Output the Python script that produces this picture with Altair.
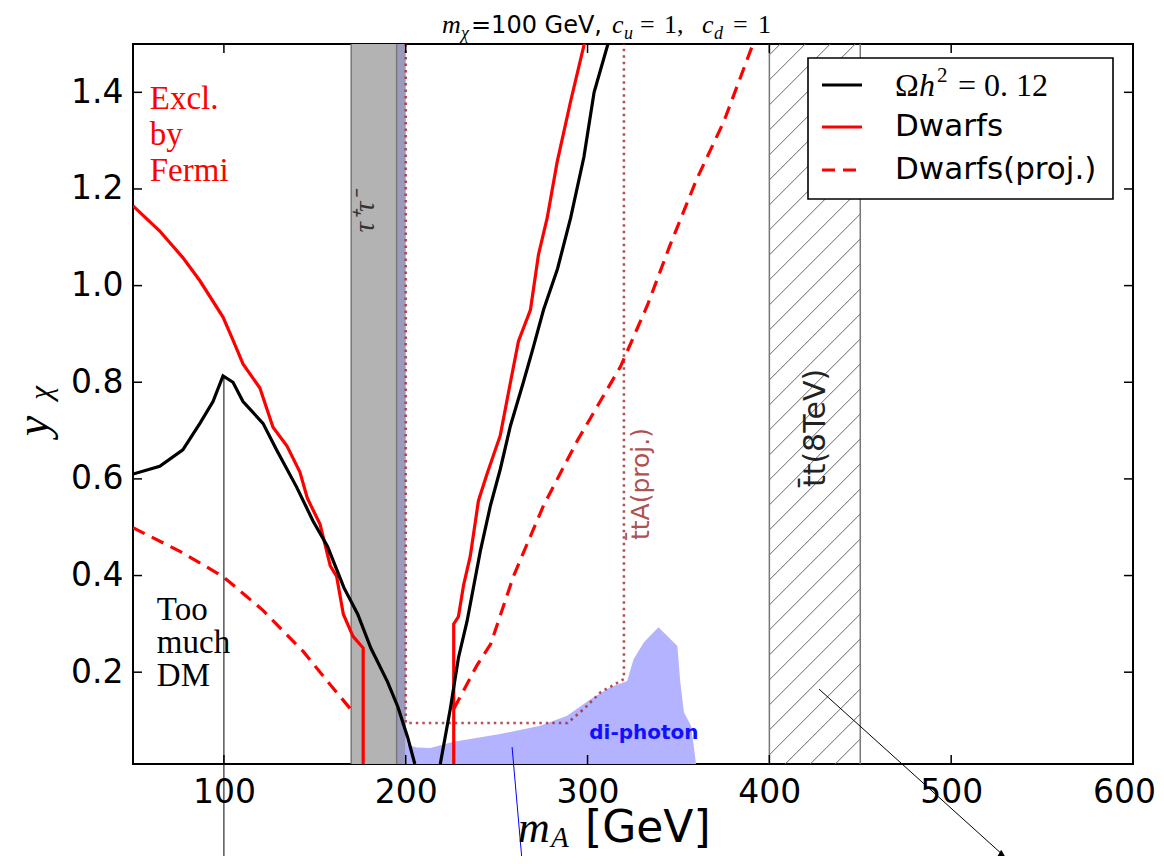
import altair as alt
import numpy as np
import pandas as pd

# ---------------- data ----------------
x_ticks = [100, 200, 300, 400, 500, 600]
y_ticks = [0.2, 0.4, 0.6, 0.8, 1.0, 1.2, 1.4]

relic_left_x = [50, 64.7, 77.4, 86.8, 94, 99.5, 105, 110.5, 121.5, 129, 140, 149, 157, 166, 173.6, 180.8, 190, 195.7, 201, 205]
relic_left_y = [0.61, 0.626, 0.66, 0.715, 0.76, 0.813, 0.80, 0.76, 0.715, 0.66, 0.583, 0.513, 0.46, 0.375, 0.32, 0.25, 0.18, 0.128, 0.066, 0.01]
relic_right_x = [219, 224.5, 229, 233.7, 241, 246.6, 252, 257.6, 264.7, 270, 275.8, 283.5, 290.7, 298, 303.6, 311.6]
relic_right_y = [0.01, 0.124, 0.23, 0.305, 0.45, 0.545, 0.62, 0.71, 0.80, 0.87, 0.95, 1.035, 1.14, 1.266, 1.40, 1.505]

dwarf_left_x = [50, 64.7, 77.4, 86.8, 99.5, 105, 110.5, 119.8, 127, 134.7, 141.8, 145.9, 152.9, 158.5, 162, 165.7, 171, 176.6, 176.6]
dwarf_left_y = [1.165, 1.113, 1.058, 1.01, 0.935, 0.887, 0.838, 0.788, 0.707, 0.668, 0.614, 0.56, 0.506, 0.42, 0.398, 0.32, 0.274, 0.25, 0.01]
dwarf_right_x = [226.4, 226.4, 229, 231.8, 235.5, 240, 244.7, 252, 257.6, 262, 268.6, 273, 277.8, 283.3, 290.6, 298.5]
dwarf_right_y = [0.01, 0.30, 0.315, 0.38, 0.44, 0.555, 0.61, 0.69, 0.80, 0.885, 0.95, 1.064, 1.14, 1.256, 1.38, 1.505]

proj_left_x = [50, 75.8, 99.5, 121.5, 143.6, 158.5, 169.6]
proj_left_y = [0.499, 0.45, 0.398, 0.328, 0.243, 0.174, 0.124]
proj_right_x = [226.4, 239, 246.7, 259.4, 275.8, 294.5, 318.2, 333, 345, 360, 375, 391]
proj_right_y = [0.124, 0.213, 0.258, 0.40, 0.545, 0.68, 0.833, 0.96, 1.08, 1.22, 1.34, 1.5]

ttA_x = [200, 200, 289, 298, 307, 320, 320]
ttA_y = [1.5, 0.095, 0.095, 0.124, 0.158, 0.186, 1.5]

diphoton_x = [200, 201, 206, 213.5, 226.4, 252, 274, 288.8, 301.6, 312.6, 321.8, 325.3, 331, 339, 349.4, 351, 353, 356.9, 359.7]
diphoton_y = [0.065, 0.05, 0.044, 0.043, 0.056, 0.072, 0.089, 0.11, 0.144, 0.169, 0.182, 0.227, 0.262, 0.293, 0.254, 0.18, 0.117, 0.089, 0.01]

tautau_band = [170, 195]
overlap_band = [195, 200]
tt8_band = [400, 450]

# annotation pointer lines (start -> end)
ann_x = [100, 258.5, 427.3]
ann_y = [0.813, 0.045, 0.165]
ann_x2 = [100, 264.2, 527.5]
ann_y2 = [-0.2, -0.2, -0.175]
ann_color = ["black", "blue", "black"]

# ---------------- layout ----------------
X0, X1 = 50, 600
Y0, Y1 = 0.01, 1.5
W, H = 1000, 720
OX, OY = 133, 44  # page position of the plot origin

xscale = alt.Scale(domain=[X0, X1], nice=False, zero=False)
yscale = alt.Scale(domain=[Y0, Y1], nice=False, zero=False)
xaxis = alt.Axis(values=x_ticks, title=None, ticks=False, domain=False, grid=False,
                 labelFont="DejaVu Sans", labelFontSize=33, labelColor="black",
                 labelPadding=12, labelFlush=False, labelOverlap=False, labelBound=False,
                 labelOffset={"condition": {"test": "datum.value == 600", "value": -9}, "value": 0})
yaxis = alt.Axis(values=y_ticks, format=".1f", title=None, ticks=False, domain=False, grid=False,
                 labelFont="DejaVu Sans", labelFontSize=33, labelColor="black",
                 labelPadding=10, labelFlush=False, labelOverlap=False, labelBound=False)


def X(f):
    return alt.X(f, type="quantitative", scale=xscale, axis=xaxis)


def Y(f):
    return alt.Y(f, type="quantitative", scale=yscale, axis=yaxis)


def curve_df(xs, ys, seg):
    return pd.DataFrame({"x": xs, "y": ys, "seg": seg, "i": range(len(xs))})


layers = []

# bands
bands = pd.DataFrame({"x": [tautau_band[0], overlap_band[0]], "x2": [tautau_band[1], overlap_band[1]],
                      "c": ["#b3b3b3", "#9a9abc"]})
layers.append(alt.Chart(bands).mark_rect().encode(
    x=X("x"), x2="x2", y=alt.value(0), y2=alt.value(H), color=alt.Color("c:N", scale=None)))

# di-photon region
dip = pd.DataFrame({"x": diphoton_x, "y": diphoton_y, "base": [Y0] * len(diphoton_x)})
layers.append(alt.Chart(dip).mark_area(color="#b3b3ff", opacity=1, clip=True).encode(
    x=X("x"), y=Y("y"), y2="base"))

# hatch of the tt(8TeV) band (texture only)
dx_px = (tt8_band[1] - tt8_band[0]) / (X1 - X0) * W
dy = dx_px * (Y1 - Y0) / H
step = 25 * (Y1 - Y0) / H
starts = np.arange(Y0 - dy, Y1 + step, step)
hatch = pd.DataFrame({"x": tt8_band[0], "x2": tt8_band[1], "y": starts, "y2": starts + dy})
layers.append(alt.Chart(hatch).mark_rule(color="#666666", strokeWidth=1, clip=True).encode(
    x=X("x"), x2="x2", y=Y("y"), y2="y2"))

edges = pd.DataFrame({"x": [tautau_band[0], tautau_band[1], tt8_band[0], tt8_band[1]]})
layers.append(alt.Chart(edges).mark_rule(color="#777777", strokeWidth=1.5).encode(
    x=X("x"), y=alt.value(0), y2=alt.value(H)))

# ttA projection (dotted)
layers.append(alt.Chart(curve_df(ttA_x, ttA_y, "a")).mark_line(
    color="#a83232", strokeWidth=2.6, strokeDash=[2.5, 4], opacity=0.85, clip=True).encode(
    x=X("x"), y=Y("y"), order="i:Q"))

# curves
proj = pd.concat([curve_df(proj_left_x, proj_left_y, "L"), curve_df(proj_right_x, proj_right_y, "R")])
layers.append(alt.Chart(proj).mark_line(color="red", strokeWidth=3.2, strokeDash=[13, 8], clip=True).encode(
    x=X("x"), y=Y("y"), detail="seg:N", order="i:Q"))
dwarf = pd.concat([curve_df(dwarf_left_x, dwarf_left_y, "L"), curve_df(dwarf_right_x, dwarf_right_y, "R")])
layers.append(alt.Chart(dwarf).mark_line(color="red", strokeWidth=3.2, clip=True).encode(
    x=X("x"), y=Y("y"), detail="seg:N", order="i:Q"))
relic = pd.concat([curve_df(relic_left_x, relic_left_y, "L"), curve_df(relic_right_x, relic_right_y, "R")])
layers.append(alt.Chart(relic).mark_line(color="black", strokeWidth=3.2, clip=True).encode(
    x=X("x"), y=Y("y"), detail="seg:N", order="i:Q"))

# annotation pointer lines
ann = pd.DataFrame({"x": ann_x, "y": ann_y, "x2": ann_x2, "y2": ann_y2, "c": ann_color})
layers.append(alt.Chart(ann).mark_rule(strokeWidth=1, clip=False).encode(
    x=X("x"), y=Y("y"), x2="x2", y2="y2", color=alt.Color("c:N", scale=None)))
layers.append(alt.Chart(ann.iloc[[2]]).mark_point(shape="triangle-up", filled=True, size=70,
                                                   color="black", opacity=1, clip=False).encode(
    x=X("x2"), y=Y("y2")))


# ---------------- texts ----------------
def dtext(s, x, y, size, font="DejaVu Sans", style="normal", color="black", angle=0,
          align="left", baseline="alphabetic", weight="normal", lh=None):
    kw = dict(fontSize=size, font=font, fontStyle=style, color=color, align=align,
              baseline=baseline, fontWeight=weight, lineBreak="\n")
    if angle:
        kw["angle"] = angle
    if lh:
        kw["lineHeight"] = lh
    return alt.Chart(pd.DataFrame({"t": [s], "x": [x], "y": [y]})).mark_text(**kw).encode(
        x=X("x"), y=Y("y"), text="t:N")


def ptext(s, px, py, size, font="DejaVu Sans", style="normal", color="black", angle=0,
          align="left", baseline="alphabetic", weight="normal"):
    kw = dict(fontSize=size, font=font, fontStyle=style, color=color, align=align,
              baseline=baseline, fontWeight=weight)
    if angle:
        kw["angle"] = angle
    return alt.Chart(pd.DataFrame({"t": [s]})).mark_text(**kw).encode(
        x=alt.value(px - OX), y=alt.value(py - OY), text="t:N")


SERIF = "Liberation Serif"
layers += [
    dtext("Excl.\nby\nFermi", 59.2, 1.365, 33, font=SERIF, color="red", lh=36),
    dtext("Too\nmuch\nDM", 63.1, 0.309, 33, font=SERIF, color="black", lh=33),
    dtext("di-photon", 331, 0.074, 20, font="DejaVu Sans", color="#1010ff", weight="bold",
          align="center", baseline="middle"),
    ptext("τ⁺τ⁻", 365, 212, 29, font=SERIF, style="italic", color="#333333", angle=270,
          align="center", baseline="middle"),
    ptext("t̄tA(proj.)", 641, 484, 25, font="DejaVu Sans", color="#b05050", angle=270,
          align="center", baseline="middle"),
    ptext("t̄t(8TeV)", 816, 428, 30, font="DejaVu Sans", color="#222222", angle=270,
          align="center", baseline="middle"),
    # title
    ptext("m", 442, 33, 26, font=SERIF, style="italic"),
    ptext("χ", 461, 39, 18, font=SERIF, style="italic"),
    ptext("=100 GeV,", 471, 33, 24),
    ptext("c", 612, 33, 26, font=SERIF, style="italic"),
    ptext("u", 624, 39, 18, font=SERIF, style="italic"),
    ptext("=", 640, 33, 26, font=SERIF),
    ptext("1,", 664, 33, 26, font=SERIF),
    ptext("c", 702, 33, 26, font=SERIF, style="italic"),
    ptext("d", 714, 39, 18, font=SERIF, style="italic"),
    ptext("=", 733, 33, 26, font=SERIF),
    ptext("1", 758, 33, 26, font=SERIF),
    # axis titles
    ptext("m", 518, 842, 44, font=SERIF, style="italic"),
    ptext("A", 551, 847, 29, font=SERIF, style="italic"),
    ptext("[GeV]", 585, 842, 44),
    ptext("y", 34, 426, 46, font=SERIF, style="italic", angle=270, align="center", baseline="middle"),
    ptext("χ", 42, 393, 31, font=SERIF, style="italic", angle=270, align="center", baseline="middle"),
]

# ---------------- legend ----------------
one = pd.DataFrame({"k": [0]})
layers.append(alt.Chart(one).mark_rect(fill="white", stroke="black", strokeWidth=1.6).encode(
    x=alt.value(675), x2=alt.value(980), y=alt.value(14), y2=alt.value(155)))
leg_styles = [("black", None, 41), ("red", None, 83), ("red", [13, 8], 126)]
for col, dash, yy in leg_styles:
    kw = dict(color=col, strokeWidth=3.2)
    if dash:
        kw["strokeDash"] = dash
    layers.append(alt.Chart(one).mark_rule(**kw).encode(
        x=alt.value(689), x2=alt.value(729), y=alt.value(yy)))
layers += [
    ptext("Ω", 895, 96, 32, font=SERIF),
    ptext("h", 919, 96, 32, font=SERIF, style="italic"),
    ptext("2", 937, 82, 21, font=SERIF),
    ptext("= 0. 12", 958, 96, 32, font=SERIF),
    ptext("Dwarfs", 895, 127, 31, baseline="middle"),
    ptext("Dwarfs(proj.)", 895, 170, 31, baseline="middle"),
]

# ---------------- inward ticks on all four sides ----------------
xt = pd.DataFrame({"x": x_ticks})
yt = pd.DataFrame({"y": y_ticks})
tick = dict(color="black", strokeWidth=1.5)
layers += [
    alt.Chart(xt).mark_rule(**tick).encode(x=X("x"), y=alt.value(H), y2=alt.value(H - 9)),
    alt.Chart(xt).mark_rule(**tick).encode(x=X("x"), y=alt.value(0), y2=alt.value(9)),
    alt.Chart(yt).mark_rule(**tick).encode(y=Y("y"), x=alt.value(0), x2=alt.value(9)),
    alt.Chart(yt).mark_rule(**tick).encode(y=Y("y"), x=alt.value(W), x2=alt.value(W - 9)),
]

chart = alt.layer(*layers).properties(
    width=W, height=H,
    padding={"left": OX - 8, "top": OY - 8, "right": 23, "bottom": 92},
    autosize=alt.AutoSizeParams(type="none"),
    background="white",
).configure_view(stroke="black", strokeWidth=2)

chart.save("out.html", embed_options={"renderer": "svg", "actions": False})
